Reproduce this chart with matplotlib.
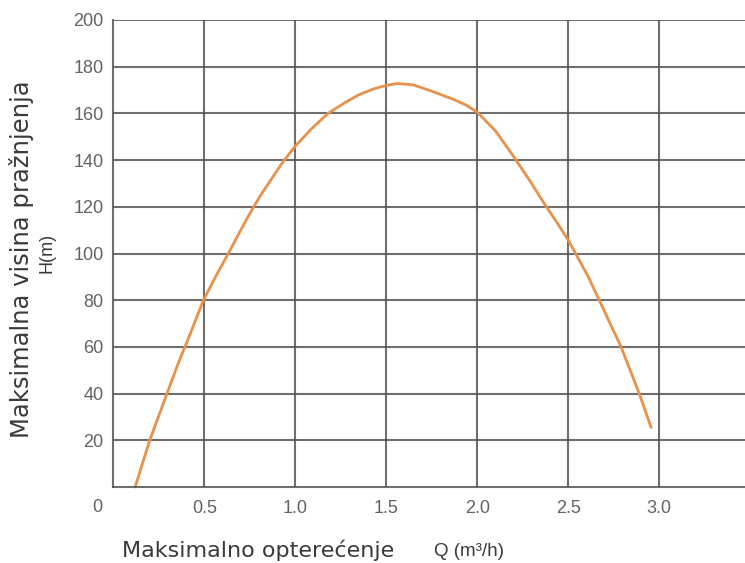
import matplotlib
matplotlib.use("Agg")
import matplotlib.pyplot as plt

# Data
Q = [0.12, 0.20, 0.295, 0.357, 0.43, 0.495, 0.565, 0.632, 0.70, 0.76, 0.81, 0.861,
     0.93, 1.00, 1.09, 1.18, 1.27, 1.35, 1.43, 1.50, 1.56, 1.65, 1.75, 1.87,
     1.94, 2.00, 2.10, 2.20, 2.29, 2.375, 2.44, 2.50, 2.54, 2.61, 2.67, 2.73,
     2.79, 2.84, 2.89, 2.955]
H = [0, 20, 40, 53, 67, 80, 90.5, 100, 110, 118.5, 125, 131,
     139, 146, 153.5, 160, 164.5, 168, 170.5, 172, 172.8, 172.2, 169.5, 166,
     163.5, 160.5, 152.5, 141.5, 131, 120.5, 113, 105.7, 100, 90, 80, 70,
     60, 50, 40, 25.5]

yticks = [20, 40, 60, 80, 100, 120, 140, 160, 180, 200]
xticks = [0.5, 1.0, 1.5, 2.0, 2.5, 3.0]
xtick_labels = ["0.5", "1.0", "1.5", "2.0", "2.5", "3.0"]

fig = plt.figure(figsize=(7.45, 5.63), dpi=100)
ax = fig.add_axes([113.3 / 745, 76 / 563, 1 - 113.3 / 745, 467 / 563])

grid_c = "#555555"
tick_c = "#636363"
ax.set_xlim(0, (745 - 113.3) / 182)
ax.set_ylim(0, 200)
ax.set_xticks(xticks)
ax.set_xticklabels(xtick_labels)
ax.set_yticks(yticks)
ax.grid(True, color=grid_c, linewidth=1.5, alpha=0.85)
ax.set_axisbelow(True)
for s in ["top", "right"]:
    ax.spines[s].set_visible(False)
for s in ["left", "bottom"]:
    ax.spines[s].set_color(grid_c)
    ax.spines[s].set_linewidth(1.5)
    ax.spines[s].set_alpha(0.85)

ax.tick_params(length=0, labelsize=13, labelcolor=tick_c)
ax.tick_params(axis="y", pad=7)
ax.tick_params(axis="x", pad=9.5)
for lab in ax.get_xticklabels() + ax.get_yticklabels():
    lab.set_family("Liberation Sans")

ax.plot(Q, H, color="#e8914a", linewidth=2.0, solid_capstyle="round",
        solid_joinstyle="round", clip_on=False)

fig.text(97 / 745, 1 - 508 / 563, "0", ha="center", va="center",
         fontsize=13, color=tick_c, family="Liberation Sans")

fig.text(22 / 745, 1 - 259 / 563, "Maksimalna visina pražnjenja",
         rotation=90, ha="center", va="center", fontsize=17.5,
         color="#3a3a3a", family="DejaVu Sans")
fig.text(47 / 745, 1 - 253 / 563, "H(m)", rotation=90, ha="center",
         va="center", fontsize=13, color="#3a3a3a", family="Liberation Sans")

fig.text(122 / 745, 1 - 550 / 563, "Maksimalno opterećenje", ha="left",
         va="center", fontsize=16, color="#3a3a3a", family="DejaVu Sans")
fig.text(434 / 745, 1 - 551 / 563, "Q (m³/h)", ha="left", va="center",
         fontsize=13.5, color="#3a3a3a", family="Liberation Sans")

fig.savefig("out.png", dpi=100)
